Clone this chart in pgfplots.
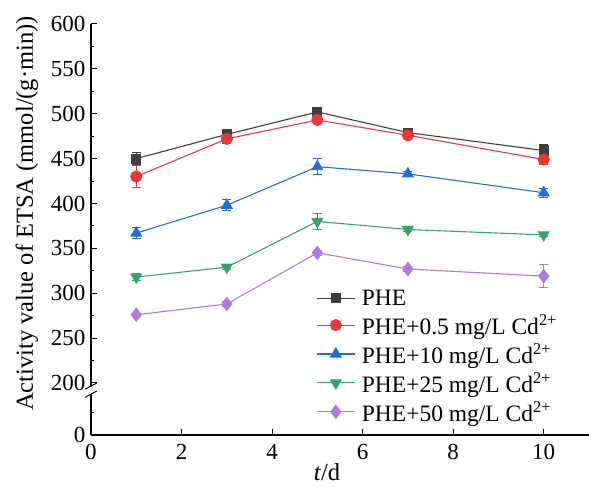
\documentclass[border=0pt]{standalone}
\usepackage{fontspec}
\setmainfont{Liberation Serif}
\usepackage{pgfplots}
\pgfplotsset{compat=1.18}
\usepackage{pgfplotstable}

\definecolor{cPHE}{HTML}{3F3F3F}
\definecolor{cA}{HTML}{E8393B}
\definecolor{cB}{HTML}{1E6FD9}
\definecolor{cC}{HTML}{35A466}
\definecolor{cD}{HTML}{B07AE0}

% t  value  err   (broken y axis: upper part shifted down by 142)
\pgfplotstableread{
t v e
1 450 7
3 477 6
5 502 4
7 479 4
10 459 7
}\phe
\pgfplotstableread{
t v e
1 430 12
3 472 5
5 493 3
7 476 4
10 449 5
}\phea
\pgfplotstableread{
t v e
1 367 6
3 398 6
5 441 9
7 433 3
10 412 5
}\pheb
\pgfplotstableread{
t v e
1 318 4
3 329 3
5 380 9
7 371 2
10 365 2
}\phec
\pgfplotstableread{
t v e
1 276 2
3 288 3
5 345 3
7 327 3
10 319 13
}\phed

\begin{document}
\begin{tikzpicture}
\begin{axis}[
    name=ax,
    scale only axis,
    width=498pt, height=411pt,
    axis lines=left,
    axis line style={-, line width=1.1pt},
    tick style={line width=1pt, color=black},
    tick align=inside,
    major tick length=6pt,
    minor tick length=3.5pt,
    xmin=0, xmax=11,
    ymin=0, ymax=458,
    xtick={0,2,4,6,8,10},
    ytick={0,58,108,158,208,258,308,358,408,458},
    yticklabels={0,200,250,300,350,400,450,500,550,600},
    minor ytick={25,83,133,183,233,283,333,383,433},
    ticklabel style={font=\fontsize{23}{27}\selectfont},
    xticklabel style={yshift=-6pt},
    yticklabel style={xshift=-2pt},
    /pgf/number format/assume math mode=true,
    xlabel={\textit{t}/d},
    ylabel={Activity value of ETSA (mmol/(g·min))},
    label style={font=\fontsize{24.5}{28}\selectfont},
    xlabel style={yshift=3pt, xshift=-13pt},
    ylabel style={yshift=6pt, xshift=16pt},
    clip=false,
    y filter/.expression={y-142},
    every axis plot/.append style={line width=1.1pt},
    error bars/y dir=both,
    error bars/y explicit,
    error bars/error bar style={line width=0.9pt},
    error bars/error mark options={rotate=90, mark size=4.5pt, line width=0.9pt},
    legend image code/.code={\draw[mark repeat=2, mark phase=2, #1]
        plot coordinates {(0pt,0pt) (19pt,0pt) (38pt,0pt)};},
    legend style={draw=none, fill=none, at={(rel axis cs:0.452,0.357)}, anchor=north west,
        font=\fontsize{23.5}{27}\selectfont, row sep=4.5pt, column sep=5pt, inner sep=0pt,
        nodes={inner sep=1.5pt}},
    legend cell align=left,
]
\addplot[color=cPHE, mark=square*, mark size=4.5pt] table[x=t, y=v, y error=e] {\phe};
\addlegendentry{PHE}
\addplot[color=cA, mark=*, mark size=5.5pt] table[x=t, y=v, y error=e] {\phea};
\addlegendentry{PHE+0.5 mg/L Cd\textsuperscript{2+}}
\addplot[color=cB, mark=triangle*, mark size=6pt] table[x=t, y=v, y error=e] {\pheb};
\addlegendentry{PHE+10 mg/L Cd\textsuperscript{2+}}
\addplot[color=cC, mark=triangle*, mark size=6pt, mark options={rotate=180}] table[x=t, y=v, y error=e] {\phec};
\addlegendentry{PHE+25 mg/L Cd\textsuperscript{2+}}
\addplot[color=cD, mark=diamond*, mark size=6.5pt] table[x=t, y=v, y error=e] {\phed};
\addlegendentry{PHE+50 mg/L Cd\textsuperscript{2+}}
% axis break
\fill[white] (axis cs:-0.1,46) rectangle (axis cs:0.1,54);
\draw[line width=1pt] (axis cs:-0.13,42) -- (axis cs:0.13,49);
\draw[line width=1pt] (axis cs:-0.13,51) -- (axis cs:0.13,58);
\end{axis}
\pgfresetboundingbox
\path ([shift={(-91pt,-51pt)}]ax.south west) rectangle ([shift={(0pt,24pt)}]ax.north east);
\end{tikzpicture}
\end{document}
